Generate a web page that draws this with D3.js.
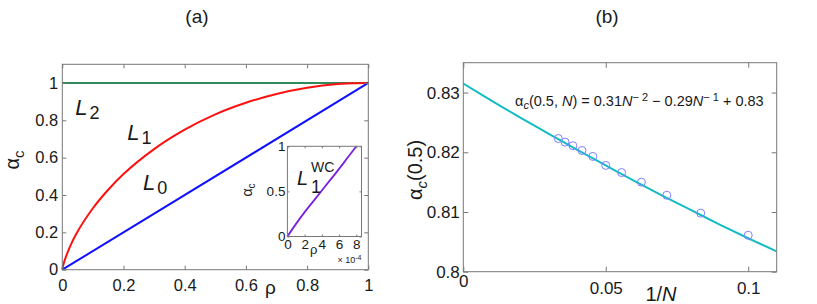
<!DOCTYPE html>
<html>
<head>
<meta charset="utf-8">
<script src="https://cdn.jsdelivr.net/npm/d3@7"></script>
<style>
  body { margin: 0; background: #fff; }
  text { font-family: "Liberation Sans", Arial, sans-serif; fill: #1a1a1a; }
</style>
</head>
<body>
<script>

// panel (a) : critical ratio vs rho
var rho     = [0, 0.001, 0.005, 0.01, 0.02, 0.03, 0.05, 0.1, 0.15, 0.2, 0.3, 0.4, 0.5, 0.6, 0.7, 0.8, 0.9, 0.95, 1];
var alphaL1 = [0, 0.0097, 0.035, 0.061, 0.104, 0.141, 0.204, 0.329, 0.428, 0.512, 0.646, 0.750, 0.832, 0.894, 0.941, 0.974, 0.994, 0.999, 1];
var rhoL0   = [0, 1];
var alphaL0 = [0, 1];
var rhoL2   = [0, 1];
var alphaL2 = [1, 1];

// inset : L1 worst case
var rhoWC   = [0, 1e-4, 2e-4, 3e-4, 4e-4, 5e-4, 6e-4, 7e-4, 8e-4];
var alphaWC = [0, 0.14, 0.27, 0.39, 0.51, 0.63, 0.75, 0.875, 1.0];

// panel (b) : finite size
var sizesN   = [30, 28, 26, 24, 22, 20, 18, 16, 14, 12, 10];
var alphaN   = [0.8223, 0.8217, 0.8211, 0.8203, 0.8193, 0.8178, 0.8166, 0.8150, 0.8128, 0.8098, 0.8061];
var fitX     = [0, 0.01, 0.02, 0.03, 0.04, 0.05, 0.06, 0.07, 0.08, 0.09, 0.1, 0.11];
var fitY     = [0.8315, 0.8286, 0.8258, 0.8231, 0.8204, 0.8178, 0.8152, 0.8127, 0.8103, 0.8079, 0.8056, 0.8034];

// ticks
var ticksA_x = [0, 0.2, 0.4, 0.6, 0.8, 1];
var labelsA_x = ["0", "0.2", "0.4", "0.6", "0.8", "1"];
var ticksA_y = [0, 0.2, 0.4, 0.6, 0.8, 1];
var labelsA_y = ["0", "0.2", "0.4", "0.6", "0.8", "1"];
var ticksIn_x = [0, 2e-4, 4e-4, 6e-4, 8e-4];
var labelsIn_x = ["0", "2", "4", "6", "8"];
var ticksIn_y = [0, 0.5, 1];
var labelsIn_y = ["0", "0.5", "1"];
var ticksB_x = [0, 0.05, 0.1];
var labelsB_x = ["0", "0.05", "0.1"];
var ticksB_y = [0.8, 0.81, 0.82, 0.83];
var labelsB_y = ["0.8", "0.81", "0.82", "0.83"];

var svg = d3.select("body").append("svg")
    .attr("width", 817)
    .attr("height", 304);

var axisColor = "#777";

function frame(x, y, ticksX, labX, ticksY, labY, fs, padX, padY, tick) {
  var x0 = x.range()[0], x1 = x.range()[1], y0 = y.range()[0], y1 = y.range()[1];

  var fmtX = function(d) { return labX[ticksX.indexOf(d)]; };
  var fmtY = function(d) { return labY[ticksY.indexOf(d)]; };

  var gb = svg.append("g").attr("transform", "translate(0," + y0 + ")")
    .call(d3.axisBottom(x).tickValues(ticksX).tickFormat(fmtX).tickSize(-tick).tickPadding(padX));
  var gt = svg.append("g").attr("transform", "translate(0," + y1 + ")")
    .call(d3.axisTop(x).tickValues(ticksX).tickFormat("").tickSize(-tick));
  var gl = svg.append("g").attr("transform", "translate(" + x0 + ",0)")
    .call(d3.axisLeft(y).tickValues(ticksY).tickFormat(fmtY).tickSize(-tick).tickPadding(padY));
  var gr = svg.append("g").attr("transform", "translate(" + x1 + ",0)")
    .call(d3.axisRight(y).tickValues(ticksY).tickFormat("").tickSize(-tick));

  [gb, gt, gl, gr].forEach(function(g) {
    g.select(".domain").remove();
    g.selectAll("line").attr("stroke", axisColor);
    g.selectAll("text").attr("font-size", fs).attr("font-family", null).attr("fill", "#1a1a1a");
  });

  svg.append("rect")
    .attr("x", x0).attr("y", y1)
    .attr("width", x1 - x0).attr("height", y0 - y1)
    .attr("fill", "none")
    .attr("stroke", axisColor)
    .attr("stroke-width", 1);

  return gb;
}

function curve(x, y, xs, ys, color, w) {
  var line = d3.line()
    .x(function(d, i) { return x(xs[i]); })
    .y(function(d, i) { return y(ys[i]); })
    .curve(d3.curveMonotoneX);
  svg.append("path")
    .datum(xs)
    .attr("d", line)
    .attr("fill", "none")
    .attr("stroke", color)
    .attr("stroke-width", w);
}

// label "L" with subscript
function lab(px, py, sub, big, small) {
  var t = svg.append("text").attr("x", px).attr("y", py).attr("font-size", big);
  t.append("tspan").attr("font-style", "italic").text("L");
  t.append("tspan").attr("font-size", small).attr("dx", 2).attr("dy", 4).text(sub);
}

// ---------------- panel (a)
var xA = d3.scaleLinear().domain([0, 1]).range([62.3, 368.3]);
var yA = d3.scaleLinear().domain([0, 1.1]).range([269.7, 64.3]);

curve(xA, yA, rhoL2, alphaL2, "#2f8a5c", 2);
curve(xA, yA, rho, alphaL1, "#ff1010", 2);
curve(xA, yA, rhoL0, alphaL0, "#1010ff", 2);

frame(xA, yA, ticksA_x, labelsA_x, ticksA_y, labelsA_y, 16.5, 10, 4, 4);

lab(xA(0.042), yA(0.827), "2", 22, 18);
lab(xA(0.212), yA(0.694), "1", 22, 18);
lab(xA(0.264), yA(0.426), "0", 22, 18);

svg.append("text").attr("x", xA(0.68)).attr("y", 294).attr("font-size", 19)
  .attr("text-anchor", "middle").text("ρ");

var ta = svg.append("text").attr("transform", "translate(19,160) rotate(-90)")
  .attr("text-anchor", "middle").attr("font-size", 20);
ta.append("tspan").text("α");
ta.append("tspan").attr("font-size", 15).attr("dy", 5).text("c");

svg.append("text").attr("x", xA(0.44)).attr("y", 23)
  .attr("text-anchor", "middle")
  .attr("font-family", "'Liberation Serif', 'Times New Roman', serif")
  .attr("font-size", 19).text("(a)");

// ---------------- inset
var xI = d3.scaleLinear().domain([0, 8.6e-4]).range([287.4, 361.5]);
var yI = d3.scaleLinear().domain([0, 1]).range([236.5, 146.3]);

svg.append("rect")
  .attr("x", xI.range()[0]).attr("y", yI.range()[1])
  .attr("width", xI.range()[1] - xI.range()[0])
  .attr("height", yI.range()[0] - yI.range()[1])
  .attr("fill", "#fff");

curve(xI, yI, rhoWC, alphaWC, "#7a1fe0", 1.8);
frame(xI, yI, ticksIn_x, labelsIn_x, ticksIn_y, labelsIn_y, 13.5, 3, 2, 2);

svg.append("text").attr("x", xI(1.1e-4)).attr("y", yI(0.57))
  .attr("font-size", 20).attr("font-style", "italic").text("L");
svg.append("text").attr("x", xI(2.75e-4)).attr("y", yI(0.71))
  .attr("font-size", 14).text("WC");
svg.append("text").attr("x", xI(2.75e-4)).attr("y", yI(0.48))
  .attr("font-size", 18).text("1");

svg.append("text").attr("x", xI(3.05e-4)).attr("y", 254).attr("font-size", 13)
  .attr("text-anchor", "middle").text("ρ");
var tx = svg.append("text").attr("x", xI.range()[1]).attr("y", 263)
  .attr("text-anchor", "end").attr("font-size", 9).attr("fill", "#333");
tx.append("tspan").text("× 10");
tx.append("tspan").attr("font-size", 7).attr("dy", -3).text("-4");

var tai = svg.append("text").attr("transform", "translate(252,190) rotate(-90)")
  .attr("text-anchor", "middle").attr("font-size", 14);
tai.append("tspan").text("α");
tai.append("tspan").attr("font-size", 10).attr("dy", 3).text("c");

// ---------------- panel (b)
var xB = d3.scaleLinear().domain([0, 0.11]).range([463.3, 776.7]);
var yB = d3.scaleLinear().domain([0.8, 0.835]).range([271.7, 62.7]);

svg.append("clipPath").attr("id", "clipB").append("rect")
  .attr("x", 463.3).attr("y", 62.7).attr("width", 313.4).attr("height", 209);

svg.append("path")
  .datum(fitX)
  .attr("d", d3.line()
    .x(function(d, i) { return xB(fitX[i]); })
    .y(function(d, i) { return yB(fitY[i]); })
    .curve(d3.curveMonotoneX))
  .attr("clip-path", "url(#clipB)")
  .attr("fill", "none")
  .attr("stroke", "#14bcc4")
  .attr("stroke-width", 2);

svg.selectAll(".pt")
  .data(sizesN)
  .enter()
  .append("circle")
  .attr("cx", function(d) { return xB(1 / d); })
  .attr("cy", function(d, i) { return yB(alphaN[i]); })
  .attr("r", 4)
  .attr("fill", "none")
  .attr("stroke", "#7f7fff")
  .attr("stroke-width", 1);

var gbB = frame(xB, yB, ticksB_x, labelsB_x, ticksB_y, labelsB_y, 17, 10, 3.5, 5);
gbB.selectAll(".tick text").filter(function(d) { return d === 0; }).attr("dy", "0.3em");

var eq = svg.append("text").attr("x", 515).attr("y", 106).attr("font-size", 14.5);
eq.append("tspan").text("α");
eq.append("tspan").attr("font-style", "italic").attr("font-size", 11).attr("dy", 3).text("c");
eq.append("tspan").attr("dy", -3).text("(0.5, ");
eq.append("tspan").attr("font-style", "italic").text("N");
eq.append("tspan").text(") = 0.31");
eq.append("tspan").attr("font-style", "italic").text("N");
eq.append("tspan").attr("font-size", 11).attr("dy", -5).text("− 2");
eq.append("tspan").attr("dy", 5).text(" − 0.29");
eq.append("tspan").attr("font-style", "italic").text("N");
eq.append("tspan").attr("font-size", 11).attr("dy", -5).text("− 1");
eq.append("tspan").attr("dy", 5).text(" + 0.83");

var xl = svg.append("text").attr("x", 661).attr("y", 301).attr("font-size", 20)
  .attr("text-anchor", "middle");
xl.append("tspan").text("1/");
xl.append("tspan").attr("font-style", "italic").text("N");

var yl = svg.append("text").attr("transform", "translate(422,170) rotate(-90)")
  .attr("text-anchor", "middle").attr("font-size", 20);
yl.append("tspan").text("α");
yl.append("tspan").attr("font-style", "italic").attr("font-size", 15).attr("dy", 5).text("c");
yl.append("tspan").attr("dy", -5).text("(0.5)");

svg.append("text").attr("x", 607).attr("y", 23)
  .attr("text-anchor", "middle")
  .attr("font-family", "'Liberation Serif', 'Times New Roman', serif")
  .attr("font-size", 19).text("(b)");

</script>
</body>
</html>
